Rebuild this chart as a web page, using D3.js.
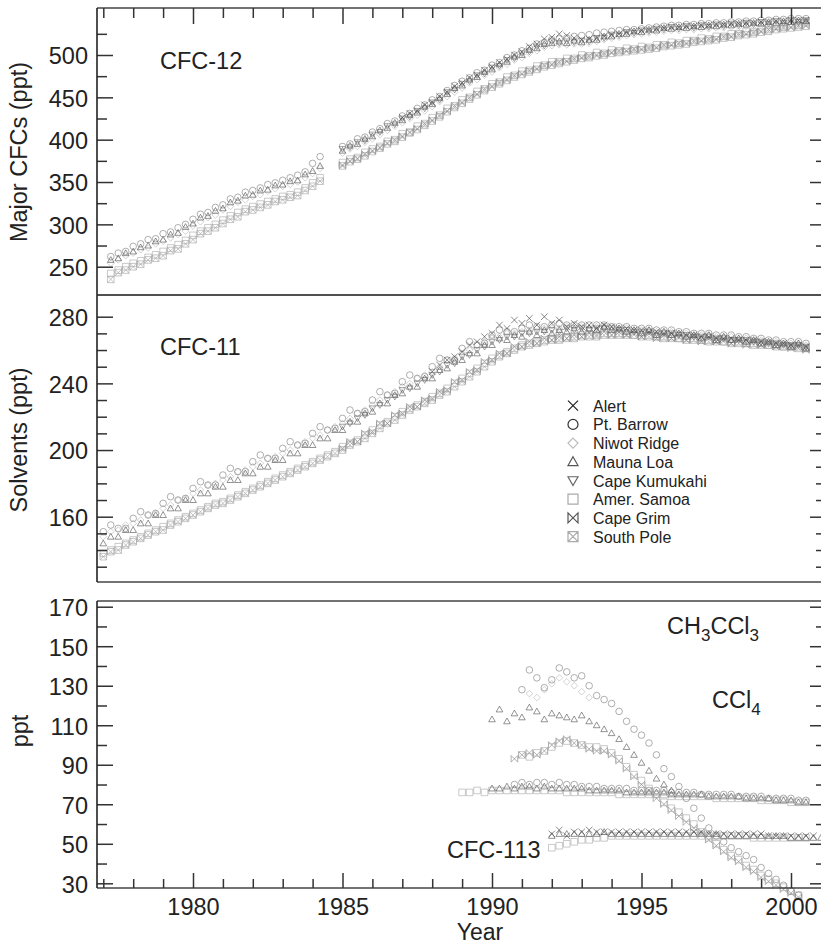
<!DOCTYPE html>
<html>
<head>
<meta charset="utf-8">
<script src="https://cdn.jsdelivr.net/npm/d3@7"></script>
<style>
  body { margin: 0; background: #fff; }
  svg { display: block; }
</style>
</head>
<body>
<svg id="chart" width="821" height="946"></svg>
<script>
// ---- data (quarterly values) ----
var stations = ["Alert", "Pt. Barrow", "Niwot Ridge", "Mauna Loa", "Cape Kumukahi", "Amer. Samoa", "Cape Grim", "South Pole"];
var shapes = ["x", "circle", "diamond", "triangle", "triangleDown", "square", "bowtie", "boxX"];
var legendColors = ["#222", "#333", "#bbb", "#555", "#666", "#aaa", "#555", "#aaa"];
var dataColors = ["#444", "#808080", "#b8b8b8", "#555", "#707070", "#aaa", "#888", "#a5a5a5"];

var majorYears = [1980, 1985, 1990, 1995, 2000];
var minorYears = [1977, 1978, 1979, 1981, 1982, 1983, 1984, 1986, 1987, 1988, 1989, 1991, 1992, 1993, 1994, 1996, 1997, 1998, 1999];

var p1Labels = [250, 300, 350, 400, 450, 500];
var p1Minor = [275, 325, 375, 425, 475, 525];
var p2Labels = [160, 200, 240, 280];
var p2Minor = [130, 140, 150, 170, 180, 190, 210, 220, 230, 250, 260, 270];
var p3Labels = [30, 50, 70, 90, 110, 130, 150, 170];
var p3Minor = [40, 60, 80, 100, 120, 140, 160];

// CFC-12, 1977.25-1984.25
var cfc12_barrow_a = [262,266,268,274,277,282,283,289,291,296,300,306,312,314,320,323,330,332,338,340,343,347,349,352,355,358,362,372,380];
var cfc12_mlo_a = [258,260,266,268,273,275,280,282,288,290,297,301,308,310,316,319,326,328,334,335,340,341,346,347,351,352,359,363,369];
var cfc12_niwot_a = [254,258,263,266,270,272,277,280,284,288,292,298,303,308,311,317,321,326,329,333,335,339,342,345,347,350,355,360,366];
var cfc12_samoa_a = [242,246,250,254,257,261,264,268,272,276,281,287,292,296,300,305,310,314,318,321,324,327,330,333,335,338,343,349,355];
var cfc12_spo_a = [235,243,246,250,253,258,260,263,269,271,277,282,289,292,296,301,306,309,315,317,320,323,327,329,332,334,340,345,351];
// CFC-12, 1985.0-2000.5
var cfc12_barrow_b = [392,395,401,403,409,413,419,422,428,431,437,441,447,451,458,464,469,473,479,482,488,491,497,500,505,508,513,515,518,519,520,522,523,524,526,527,528,529,530,530,531,532,533,534,535,535,536,536,537,537,538,538,539,539,540,540,541,541,542,542,543,543,543];
var cfc12_mlo_b = [387,393,395,401,404,411,414,420,423,429,432,439,442,449,454,461,464,471,474,480,483,489,492,498,500,506,508,513,514,516,514,517,515,518,518,522,522,525,525,528,527,530,529,532,531,533,532,534,533,535,534,536,535,537,536,538,537,539,538,540,539,541,540];
var cfc12_kum_b = [389,391,397,399,406,409,416,418,425,427,434,437,444,447,456,459,466,469,476,478,485,487,494,496,502,504,510,511,516,514,516,515,517,516,520,520,524,523,527,526,529,528,531,530,533,531,534,532,535,533,536,534,537,535,538,536,539,537,540,538,541,539,541];
var cfc12_niwot_b = [384,389,392,397,401,406,411,416,420,425,429,434,439,445,451,456,461,467,471,476,480,485,489,494,497,502,505,509,511,512,512,513,513,514,516,518,520,521,523,524,525,526,527,528,529,529,530,530,531,531,532,532,533,533,534,534,535,535,536,536,537,537,537];
var cfc12_samoa_b = [373,377,379,385,389,392,398,400,407,409,416,419,426,429,437,440,447,450,457,460,466,468,474,476,481,482,487,488,492,492,496,496,500,499,503,502,506,505,508,507,510,509,512,512,515,514,517,517,520,519,522,522,525,525,528,527,531,530,534,533,536,535,538];
var cfc12_cgo_b = [370,375,378,383,387,391,396,400,404,409,413,419,423,429,434,440,444,450,454,460,463,468,471,476,478,482,484,488,489,492,493,496,497,499,500,502,503,505,505,507,507,509,509,512,512,514,514,517,517,519,519,522,522,525,525,527,528,530,531,533,533,535,535];
var cfc12_spo_b = [369,374,377,381,386,390,395,398,403,408,412,417,422,427,433,438,443,448,453,458,462,466,470,474,477,480,483,486,488,490,492,494,496,497,499,500,502,503,504,505,506,507,508,510,511,512,513,515,516,517,518,520,521,523,524,525,527,528,530,531,532,533,534];
// CFC-12 Alert, 1987.0-2000.5
var cfc12_alert = [426,431,434,441,444,451,456,463,467,473,476,482,486,491,495,500,504,510,513,519,521,525,523,520,518,519,520,522,524,525,527,528,529,530,531,532,533,533,534,534,535,535,536,536,537,537,538,538,539,539,540,540,541,541,541];

// CFC-11, 1977.0-2000.5
var cfc11_barrow = [151,155,153,153,159,163,161,162,168,172,170,171,177,181,179,179,185,189,187,187,193,197,195,195,201,205,203,204,210,214,212,213,219,224,222,223,230,235,233,234,241,245,243,244,250,255,254,254,261,265,263,264,269,272,271,271,273,275,274,274,275,276,275,275,275,275,275,275,274,274,274,273,273,273,272,272,272,271,271,270,270,270,269,269,269,268,268,267,267,266,266,265,265,265,264];
var cfc11_mlo = [144,148,148,152,152,156,156,161,161,165,165,170,170,174,174,178,178,182,182,186,186,190,190,194,194,198,198,203,203,207,207,212,212,217,217,222,223,228,228,233,234,238,238,243,243,248,249,253,254,258,258,263,263,267,266,269,268,271,269,272,270,272,271,273,271,273,272,274,272,273,271,272,270,272,269,271,269,270,268,269,267,269,266,268,266,267,265,266,264,265,263,264,262,264,261];
var cfc11_niwot = [148,151,152,155,156,158,161,162,165,167,170,171,174,176,179,180,182,184,187,188,190,192,195,196,198,200,203,205,207,209,212,214,216,219,222,224,227,230,233,235,238,240,243,245,247,250,254,255,258,260,263,265,267,268,270,270,271,272,273,273,273,273,274,274,274,273,274,274,274,273,273,272,272,272,271,271,271,270,270,269,269,269,268,268,268,267,267,266,266,265,265,264,264,264,263];
var cfc11_samoa = [138,140,142,144,146,148,150,152,154,156,158,160,162,164,166,168,169,171,173,175,177,179,181,183,185,187,189,191,193,195,197,199,202,204,206,209,212,215,217,220,223,225,227,229,232,234,237,240,243,246,249,252,255,257,259,261,263,264,265,266,267,267,268,268,269,269,269,270,270,270,270,269,269,269,268,268,268,267,267,267,266,266,266,265,265,265,264,264,264,263,263,262,262,262,261];
var cfc11_spo = [136,139,140,143,145,147,149,151,152,155,157,159,161,163,165,167,168,170,172,174,176,178,180,182,184,186,188,190,192,194,196,198,200,203,205,207,210,213,216,218,221,224,226,228,230,233,235,238,241,244,247,250,253,256,258,260,262,263,264,265,266,266,267,267,268,268,268,269,269,269,269,269,268,268,268,267,267,267,266,266,266,265,265,265,264,264,264,263,263,263,262,262,262,261,261];
// CFC-11, 1985.0-2000.5
var cfc11_kum = [214,216,219,221,225,227,230,232,236,237,240,242,245,247,251,252,256,257,260,262,265,266,268,268,270,270,271,271,272,271,273,272,273,272,273,273,273,272,272,271,271,271,270,270,270,269,269,268,268,268,267,267,266,266,266,265,265,264,264,263,263,263,262];
var cfc11_cgo = [201,205,205,210,211,216,216,221,222,226,226,230,231,235,236,241,242,247,248,253,254,258,258,262,262,265,264,267,266,268,267,269,268,270,269,271,269,271,269,270,268,270,267,269,267,268,266,268,265,267,265,266,264,266,263,265,263,264,262,263,261,262,260];
// CFC-11 Alert, 1988.0-2000.5
var cfc11_alert = [247,251,254,256,259,263,265,268,270,275,273,278,276,279,275,280,276,278,274,276,274,275,273,275,274,273,273,272,272,271,271,270,270,270,269,269,268,268,267,267,267,266,266,266,265,265,264,264,263,263,262];

// CH3CCl3
var ch3ccl3_barrow = [128,138,134,129,133,139,137,134,135,130,125,123,121,117,112,108,105,101,95,88,84,79,73,68,63,58,54,51,48,46,44,42,38,35,32,29,26,24]; // 1991.0-
var ch3ccl3_niwot = [126,124,128,131,134,132,130,127,124]; // 1991.25-
var ch3ccl3_mlo = [113,118,112,116,114,119,117,113,116,115,114,113,115,112,110,108,106,103,99,95,91,87,83,80,77]; // 1990.0-
var ch3ccl3_samoa = [95,94,96,97,99,101,102,101,100,99,99,98,96,93,89,85,82,78,75,71,68,66,63,60,56,53,50,47,44,42,39,37,34,32,30,28,26,24]; // 1991.0-
var ch3ccl3_cgo = [93,95,96,95,97,100,102,103,101,100,98,97,97,95,92,88,84,80,77,73,70,67,64,61,58,55,52,49,46,43,41,38,36,33,31,29,27,25,23]; // 1990.75-
// CCl4
var ccl4_samoa = [76,76,77,76,77,77,77,77,77,77,77,77,77,77,76,76,76,76,76,76,76,75,75,75,75,75,75,75,74,74,74,74,74,74,73,73,73,73,73,73,72,72,72,72,71,71,71]; // 1989.0-
var ccl4_mlo = [78,78,79,78,79,79,78,79,78,78,78,78,78,77,77,77,77,77,76,76,76,76,76,76,75,75,75,75,75,74,74,74,74,74,73,73,73,73,72,72,72,71,71]; // 1990.0-
var ccl4_barrow = [80,81,80,81,81,80,81,80,80,79,79,79,78,78,78,78,77,77,77,77,77,76,76,76,76,75,75,75,75,75,74,74,74,74,73,73,73,73,72,72]; // 1990.75-
// CFC-113
var cfc113_alert = [55,57,54,56,56,57,56,56,56,56,56,56,56,56,56,56,56,56,56,56,56,55,55,55,55,55,55,55,55,54,54,54,54,54,54,54]; // 1992.0-
var cfc113_mlo = [54,55,55,55,55,55,55,56,55,55,55,55,55,55,55,55,55,55,55,55,55,55,55,54,54,54,54,54,54,54,54,54,53,53,53,53,53]; // 1992.0-
var cfc113_samoa = [48,49,50,51,52,52,53,53,54,54,54,54,54,54,54,54,54,54,54,54,54,54,54,54,54,54,54,53,53,53,53,53,53,53,53]; // 1992.0-

// ---- layout ----
var FONT = "'Liberation Sans', Arial, Helvetica, sans-serif";
var svg = d3.select("#chart");
var L = 97, R = 826;
var x = d3.scaleLinear().domain([1980, 2000]).range([193, 791]);

var panels = [
  { top: 8, bottom: 295, y: d3.scaleLinear().domain([250, 500]).range([266.7, 55]),
    labels: p1Labels, minor: p1Minor, title: "Major CFCs (ppt)", titleX: 27, titleY: 152,
    series: [
      ["Amer. Samoa", 1977.25, cfc12_samoa_a], ["South Pole", 1977.25, cfc12_spo_a],
      ["Niwot Ridge", 1977.25, cfc12_niwot_a], ["Pt. Barrow", 1977.25, cfc12_barrow_a],
      ["Mauna Loa", 1977.25, cfc12_mlo_a],
      ["Amer. Samoa", 1985, cfc12_samoa_b], ["South Pole", 1985, cfc12_spo_b],
      ["Cape Grim", 1985, cfc12_cgo_b], ["Niwot Ridge", 1985, cfc12_niwot_b],
      ["Pt. Barrow", 1985, cfc12_barrow_b], ["Cape Kumukahi", 1985, cfc12_kum_b],
      ["Mauna Loa", 1985, cfc12_mlo_b], ["Alert", 1987, cfc12_alert]
    ] },
  { top: 295, bottom: 582, y: d3.scaleLinear().domain([160, 280]).range([516.7, 316.7]),
    labels: p2Labels, minor: p2Minor, title: "Solvents (ppt)", titleX: 27, titleY: 440,
    series: [
      ["Amer. Samoa", 1977, cfc11_samoa], ["South Pole", 1977, cfc11_spo],
      ["Cape Grim", 1985, cfc11_cgo], ["Niwot Ridge", 1977, cfc11_niwot],
      ["Pt. Barrow", 1977, cfc11_barrow], ["Cape Kumukahi", 1985, cfc11_kum],
      ["Mauna Loa", 1977, cfc11_mlo], ["Alert", 1988, cfc11_alert]
    ] },
  { top: 601, bottom: 888, y: d3.scaleLinear().domain([30, 170]).range([883.3, 606.7]),
    labels: p3Labels, minor: p3Minor, title: "ppt", titleX: 28, titleY: 731,
    series: [
      ["Amer. Samoa", 1989, ccl4_samoa], ["Mauna Loa", 1990, ccl4_mlo], ["Pt. Barrow", 1990.75, ccl4_barrow],
      ["Amer. Samoa", 1992, cfc113_samoa], ["Mauna Loa", 1992, cfc113_mlo], ["Alert", 1992, cfc113_alert],
      ["Cape Grim", 1990.75, ch3ccl3_cgo], ["Amer. Samoa", 1991, ch3ccl3_samoa],
      ["Niwot Ridge", 1991.25, ch3ccl3_niwot], ["Mauna Loa", 1990, ch3ccl3_mlo],
      ["Pt. Barrow", 1991, ch3ccl3_barrow]
    ] }
];

function markerPath(shape, s) {
  var sq = "M" + (-s) + "," + (-s) + "H" + s + "V" + s + "H" + (-s) + "Z";
  var ex = "M" + (-s) + "," + (-s) + "L" + s + "," + s + "M" + (-s) + "," + s + "L" + s + "," + (-s);
  switch (shape) {
    case "x": return ex;
    case "circle": return "M" + s + ",0A" + s + "," + s + " 0 1,1 " + (-s) + ",0A" + s + "," + s + " 0 1,1 " + s + ",0Z";
    case "diamond": return "M0," + (-s) + "L" + s + ",0L0," + s + "L" + (-s) + ",0Z";
    case "triangle": return "M0," + (-s) + "L" + s + "," + (s * 0.75) + "L" + (-s) + "," + (s * 0.75) + "Z";
    case "triangleDown": return "M0," + s + "L" + s + "," + (-s * 0.75) + "L" + (-s) + "," + (-s * 0.75) + "Z";
    case "square": return sq;
    case "bowtie": return "M" + (-s) + "," + (-s) + "L" + s + "," + s + "V" + (-s) + "L" + (-s) + "," + s + "Z";
    case "boxX": return sq + ex;
  }
}

function styleAxis(g) {
  g.select(".domain").remove();
  g.selectAll(".tick line").attr("stroke", "#333").attr("stroke-width", 1.5);
  g.selectAll("text").attr("font-family", FONT).attr("font-size", 23.5).attr("fill", "#222");
}

panels.forEach(function(p) {
  // data points
  p.series.forEach(function(s) {
    var k = stations.indexOf(s[0]);
    var pts = s[2].map(function(v, i) { return { t: s[1] + i * 0.25, v: v }; });
    svg.append("g").selectAll("path")
      .data(pts)
      .join("path")
      .attr("d", markerPath(shapes[k], 3.3))
      .attr("transform", function(d) { return "translate(" + x(d.t) + "," + p.y(d.v) + ")"; })
      .attr("fill", "none")
      .attr("stroke", dataColors[k])
      .attr("stroke-width", 0.9)
      .attr("stroke-opacity", 0.7);
  });

  // y axes, ticks inward on both sides
  svg.append("g").attr("transform", "translate(" + L + ",0)")
    .call(d3.axisLeft(p.y).tickValues(p.labels).tickSize(-16).tickPadding(9))
    .call(styleAxis)
    .selectAll("text").attr("dy", "0.38em");
  svg.append("g").attr("transform", "translate(" + L + ",0)")
    .call(d3.axisLeft(p.y).tickValues(p.minor).tickSize(-10).tickFormat(""))
    .call(styleAxis);
  svg.append("g").attr("transform", "translate(" + R + ",0)")
    .call(d3.axisRight(p.y).tickValues(p.labels).tickSize(-16).tickFormat(""))
    .call(styleAxis);
  svg.append("g").attr("transform", "translate(" + R + ",0)")
    .call(d3.axisRight(p.y).tickValues(p.minor).tickSize(-10).tickFormat(""))
    .call(styleAxis);

  // frame
  var fr = svg.append("g").attr("stroke", "#444").attr("stroke-width", 1.6);
  fr.append("line").attr("x1", L).attr("x2", R).attr("y1", p.top).attr("y2", p.top);
  fr.append("line").attr("x1", L).attr("x2", R).attr("y1", p.bottom).attr("y2", p.bottom);
  fr.append("line").attr("x1", L).attr("x2", L).attr("y1", p.top).attr("y2", p.bottom).attr("stroke", "#222");

  // y title
  svg.append("text")
    .attr("transform", "translate(" + p.titleX + "," + p.titleY + ") rotate(-90)")
    .attr("text-anchor", "middle")
    .attr("font-family", FONT).attr("font-size", 23.5).attr("fill", "#222")
    .text(p.title);
});

// x ticks: top of first panel, bottom of last panel
svg.append("g").attr("transform", "translate(0,8)")
  .call(d3.axisTop(x).tickValues(majorYears).tickSize(-16).tickFormat("")).call(styleAxis);
svg.append("g").attr("transform", "translate(0,8)")
  .call(d3.axisTop(x).tickValues(minorYears).tickSize(-10).tickFormat("")).call(styleAxis);
svg.append("g").attr("transform", "translate(0,888)")
  .call(d3.axisBottom(x).tickValues(majorYears).tickSize(-15).tickPadding(10).tickFormat(d3.format("d"))).call(styleAxis);
svg.append("g").attr("transform", "translate(0,888)")
  .call(d3.axisBottom(x).tickValues(minorYears).tickSize(-9).tickFormat("")).call(styleAxis);

svg.append("text").attr("x", 480).attr("y", 940).attr("text-anchor", "middle")
  .attr("font-family", FONT).attr("font-size", 23).attr("fill", "#222").text("Year");

// annotations
function label(xp, yp, parts) {
  var t = svg.append("text").attr("x", xp).attr("y", yp)
    .attr("font-family", FONT).attr("font-size", 23.5).attr("fill", "#222");
  var shift = 0;
  parts.forEach(function(pt) {
    var sub = pt[1];
    var dy = sub ? 7 - shift : -shift;
    shift = sub ? 7 : 0;
    t.append("tspan").attr("dy", dy).attr("font-size", sub ? 17 : 23.5).text(pt[0]);
  });
}
label(160, 69, [["CFC-12", false]]);
label(160, 355, [["CFC-11", false]]);
label(667, 634, [["CH", false], ["3", true], ["CCl", false], ["3", true]]);
label(712, 708, [["CCl", false], ["4", true]]);
label(447, 858, [["CFC-113", false]]);

// legend
var lg = svg.append("g").selectAll("g").data(stations).join("g")
  .attr("transform", function(d, i) { return "translate(573," + (405.7 + i * 18.7) + ")"; });
lg.append("path")
  .attr("d", function(d, i) { return markerPath(shapes[i], 5); })
  .attr("fill", "none")
  .attr("stroke", function(d, i) { return legendColors[i]; })
  .attr("stroke-width", 1.2);
lg.append("text").attr("x", 20).attr("y", 6)
  .attr("font-family", FONT).attr("font-size", 16).attr("fill", "#222")
  .text(function(d) { return d; });
</script>
</body>
</html>
